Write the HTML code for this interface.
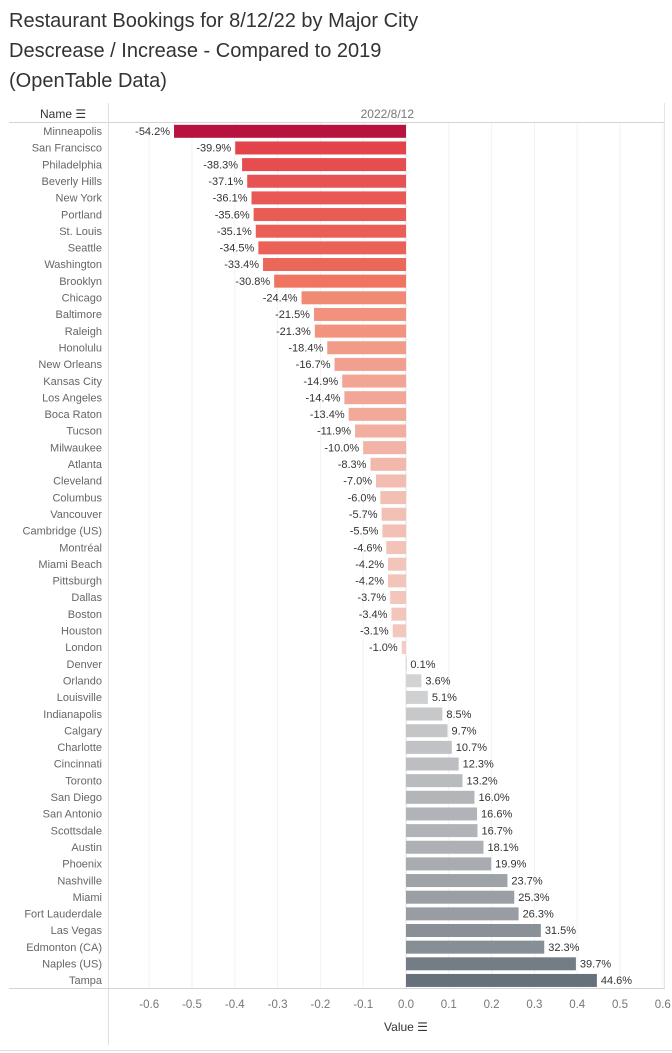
<!DOCTYPE html>
<html><head><meta charset="utf-8">
<style>
body{margin:0;background:#fff;width:672px;height:1053px;overflow:hidden;font-family:"Liberation Sans",sans-serif;}
#title{position:absolute;left:9px;top:6px;font-size:20px;line-height:30px;color:#333;}
svg{position:absolute;left:0;top:0;}
</style></head><body>
<div id="title">Restaurant Bookings for 8/12/22 by Major City<br>Descrease / Increase - Compared to 2019<br>(OpenTable Data)</div>
<svg id="chart" width="672" height="1053"></svg>
<script>
const cities=["Minneapolis","San Francisco","Philadelphia","Beverly Hills","New York","Portland","St. Louis","Seattle","Washington","Brooklyn","Chicago","Baltimore","Raleigh","Honolulu","New Orleans","Kansas City","Los Angeles","Boca Raton","Tucson","Milwaukee","Atlanta","Cleveland","Columbus","Vancouver","Cambridge (US)","Montréal","Miami Beach","Pittsburgh","Dallas","Boston","Houston","London","Denver","Orlando","Louisville","Indianapolis","Calgary","Charlotte","Cincinnati","Toronto","San Diego","San Antonio","Scottsdale","Austin","Phoenix","Nashville","Miami","Fort Lauderdale","Las Vegas","Edmonton (CA)","Naples (US)","Tampa"];
const values=[-54.2,-39.9,-38.3,-37.1,-36.1,-35.6,-35.1,-34.5,-33.4,-30.8,-24.4,-21.5,-21.3,-18.4,-16.7,-14.9,-14.4,-13.4,-11.9,-10.0,-8.3,-7.0,-6.0,-5.7,-5.5,-4.6,-4.2,-4.2,-3.7,-3.4,-3.1,-1.0,0.1,3.6,5.1,8.5,9.7,10.7,12.3,13.2,16.0,16.6,16.7,18.1,19.9,23.7,25.3,26.3,31.5,32.3,39.7,44.6];
const ticks=[-0.6,-0.5,-0.4,-0.3,-0.2,-0.1,0.0,0.1,0.2,0.3,0.4,0.5,0.6];
const svg=document.getElementById('chart');const NS='http://www.w3.org/2000/svg';
const x0=406,pxPer=428;
function xs(v){return x0+v*pxPer;}
const rowTop=123,rowH=16.65;
function ys(i){return rowTop+i*rowH;}
function mk(t,a,txt){const e=document.createElementNS(NS,t);for(const k in a)e.setAttribute(k,a[k]);if(txt!==undefined)e.textContent=txt;svg.appendChild(e);return e;}
function mix(a,b,t){const p=s=>[1,3,5].map(i=>parseInt(s.substr(i,2),16));const A=p(a),B=p(b);return 'rgb('+A.map((v,i)=>Math.round(v+(B[i]-v)*t)).join(',')+')';}
function col(v){if(v<0){const m=-v/54.2;if(m<0.55)return mix('#f3d0c8','#f07a62',m/0.55);if(m<0.75)return mix('#f07a62','#e2404a',(m-0.55)/0.2);return mix('#e2404a','#b8123f',(m-0.75)/0.25);}const m=v/44.6;return mix('#dcdcdc','#67717b',m);}
// frame lines
let e;
e=mk('line',{x1:9,x2:664,y1:122.5,y2:122.5,stroke:'#d4d4d4'});
e=mk('line',{x1:108.5,x2:108.5,y1:103,y2:1045,stroke:'#e0e0e0'});
e=mk('line',{x1:664.5,x2:664.5,y1:103,y2:990,stroke:'#e6e6e6'});
e=mk('line',{x1:9,x2:664,y1:988.5,y2:988.5,stroke:'#d4d4d4'});
e=mk('line',{x1:0,x2:672,y1:1050.5,y2:1050.5,stroke:'#dcdcdc'});
e=mk('text',{x:40,y:118,'font-size':12,fill:'#333'},'Name ☰');
e=mk('text',{x:414,y:118,'font-size':12,fill:'#777','text-anchor':'end'},'2022/8/12');
ticks.forEach(t=>{const x=xs(t);
 e=mk('line',{x1:x,x2:x,y1:123,y2:988,stroke:t===0?'#e2e2e2':'#f2f2f2'});
 e=mk('text',{x:x,y:1008,'font-size':11.5,fill:'#777','text-anchor':'middle'},t.toFixed(1));});
e=mk('text',{x:406,y:1031,'font-size':12,fill:'#333','text-anchor':'middle'},'Value ☰');
cities.forEach((c,i)=>{const v=values[i],y=ys(i),xa=xs(0),xb=xs(v/100);
 e=mk('text',{x:102,y:y+12,'font-size':11,fill:'#666','text-anchor':'end'},c);
 e=mk('rect',{x:Math.min(xa,xb),y:y+1.8,width:Math.max(Math.abs(xb-xa),1),height:13,fill:col(v)});
 const lx=v<0?xb-4:xb+4;
 e=mk('text',{x:lx,y:y+12,'font-size':11,fill:'#333','text-anchor':v<0?'end':'start'},v.toFixed(1)+'%');});
</script>
</body></html>
